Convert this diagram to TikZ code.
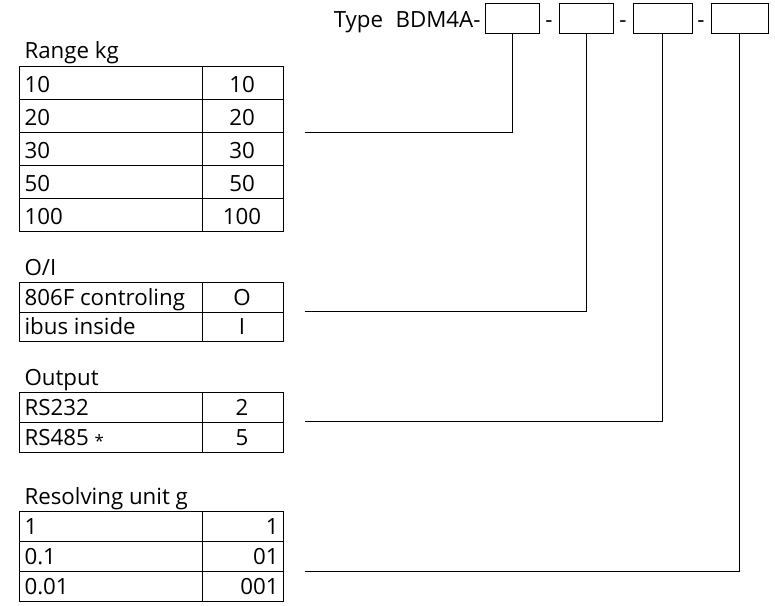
\documentclass[tikz,border=0pt]{standalone}
\usepackage{fontspec}
\setmainfont{Open Sans}
\begin{document}
\begin{tikzpicture}[x=1pt,y=-1pt,line width=1pt,
  font=\fontsize{22.3}{26}\selectfont,
  codebox/.style={draw,minimum width=54pt,minimum height=30pt,inner sep=0pt},
  tbl/.style={draw,anchor=north west,inner sep=0pt},
  txt/.style={anchor=base west,inner sep=0pt},
  val/.style={anchor=base,inner sep=0pt},
  valr/.style={anchor=base east,inner sep=0pt}]
\useasboundingbox (0,0) rectangle (775,605);
% header
\node[anchor=base east,inner sep=0pt] (type) at (481,27) {Type\hspace{0.3em} BDM4A-};
\node[codebox] (b1) at (512,18) {};
\node[codebox] (b2) at (586,18) {};
\node[codebox,minimum width=59pt] (b3) at (662.5,18) {};
\node[codebox,minimum width=57pt] (b4) at (739.5,18) {};
\node[val] (d1) at (549,27) {-};
\node[val] (d2) at (623,27) {-};
\node[val] (d3) at (701,27) {-};
% table 1
\node[txt] (h1) at (24,58) {Range kg};
\node[tbl,minimum width=264pt,minimum height=165pt] (t1) at (19,66) {};
\draw (202,66) -- (202,231);
\foreach \y in {99,132,165,198} \draw (19,\y) -- (283,\y);
\foreach \a/\b [count=\i] in {10/10,20/20,30/30,50/50,100/100}{
  \node[txt] (t1l\i) at (24,66+33*\i-7) {\a};
  \node[val] (t1r\i) at (242,66+33*\i-7) {\b};
}
% table 2
\node[txt] (h2) at (24,275) {O/I};
\node[tbl,minimum width=264pt,minimum height=59pt] (t2) at (19,282) {};
\draw (202,282) -- (202,341);
\draw (19,312) -- (283,312);
\node[txt] (t2l1) at (24,305) {806F controling};
\node[val] (t2r1) at (242,305) {O};
\node[txt] (t2l2) at (24,334) {ibus inside};
\node[val] (t2r2) at (242,334) {I};
% table 3
\node[txt] (h3) at (24,385) {Output};
\node[tbl,minimum width=264pt,minimum height=60pt] (t3) at (19,392) {};
\draw (202,392) -- (202,452);
\draw (19,422) -- (283,422);
\node[txt] (t3l1) at (24,415) {RS232};
\node[val] (t3r1) at (242,415) {2};
\node[txt] (t3l2) at (24,445) {RS485 {\fontsize{17}{20}\selectfont\raisebox{-0.25ex}{*}}};
\node[val] (t3r2) at (242,445) {5};
% table 4
\node[txt] (h4) at (24,504) {Resolving unit g};
\node[tbl,minimum width=264pt,minimum height=90pt] (t4) at (19,511) {};
\draw (202,511) -- (202,601);
\foreach \y in {541,571} \draw (19,\y) -- (283,\y);
\node[txt] (t4l1) at (24,534) {1};
\node[valr] (t4r1) at (279,534) {1};
\node[txt] (t4l2) at (24,564) {0.1};
\node[valr] (t4r2) at (279,564) {01};
\node[txt] (t4l3) at (24,594) {0.01};
\node[valr] (t4r3) at (279,594) {001};
% connectors
\coordinate (e1) at (305,132);
\coordinate (e2) at (305,311);
\coordinate (e3) at (305,421);
\coordinate (e4) at (305,571);
\draw (b1.south) |- (e1);
\draw (b2.south) |- (e2);
\draw (b3.south) |- (e3);
\draw (b4.south) |- (e4);
\end{tikzpicture}
\end{document}
